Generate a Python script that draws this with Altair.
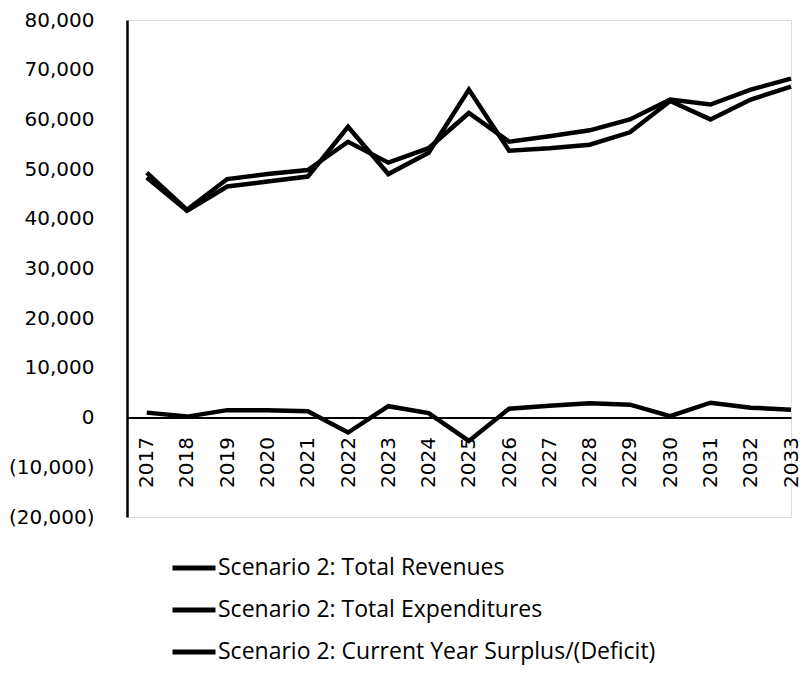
import altair as alt
import pandas as pd

years = list(range(2017, 2034))
revenues = [49300, 41800, 48000, 49000, 49800, 55500, 51300, 54200, 61300,
            55500, 56600, 57800, 60000, 64000, 63000, 66000, 68200]
expenditures = [48300, 41600, 46500, 47500, 48500, 58500, 49000, 53300, 66000,
                53700, 54200, 54900, 57400, 63700, 60000, 64000, 66600]
surplus = [1000, 200, 1500, 1500, 1300, -3000, 2300, 900, -4700,
           1800, 2400, 2900, 2600, 300, 3000, 2000, 1600]
series_names = ["Scenario 2: Total Revenues",
                "Scenario 2: Total Expenditures",
                "Scenario 2: Current Year Surplus/(Deficit)"]
y_ticks = [-20000, -10000, 0, 10000, 20000, 30000, 40000, 50000, 60000, 70000, 80000]

rows = []
for name, vals in zip(series_names, [revenues, expenditures, surplus]):
    for yr, v in zip(years, vals):
        rows.append({"year": yr, "value": v, "series": name})
df = pd.DataFrame(rows)

W, H = 664, 497

chart = alt.Chart(df).mark_line(strokeWidth=4.5, clip=False).encode(
    x=alt.X("year:Q",
            scale=alt.Scale(domain=[2016.51, 2033.0], nice=False, zero=False),
            axis=alt.Axis(values=years, format="d", labelAngle=270, title=None,
                          ticks=False, grid=False, offset=-99.4,
                          domainColor="black", domainWidth=2,
                          labelFont="DejaVu Sans", labelFontSize=20,
                          labelColor="black", labelPadding=19, labelFlush=False,
                          labelOverlap=False)),
    y=alt.Y("value:Q",
            scale=alt.Scale(domain=[-20000, 80000], nice=False),
            axis=alt.Axis(values=y_ticks, title=None, ticks=False, grid=False,
                          domainColor="black", domainWidth=2.5,
                          labelFont="DejaVu Sans", labelFontSize=20,
                          labelColor="black", labelPadding=33,
                          labelExpr="datum.value < 0 ? '(' + format(-datum.value, ',') + ')' : format(datum.value, ',')")),
    color=alt.Color("series:N",
                    scale=alt.Scale(domain=series_names,
                                    range=["black", "black", "black"]),
                    sort=series_names,
                    legend=alt.Legend(title=None, orient="none",
                                      legendX=43, legendY=524,
                                      direction="vertical",
                                      symbolType="M-1,0H1",
                                      symbolSize=1849, symbolStrokeWidth=5,
                                      symbolStrokeColor="black",
                                      labelFont="Open Sans", labelFontSize=23,
                                      labelColor="black", labelLimit=700,
                                      labelOffset=0, rowPadding=6, padding=0)),
    detail="series:N",
).properties(
    width=W, height=H,
    autosize=alt.AutoSizeParams(type="none"),
    padding={"left": 119, "top": 12, "right": 13, "bottom": 151},
).configure_view(stroke=None).configure(background="white")

chart.save("out.html", embed_options={"renderer": "svg", "actions": False})
